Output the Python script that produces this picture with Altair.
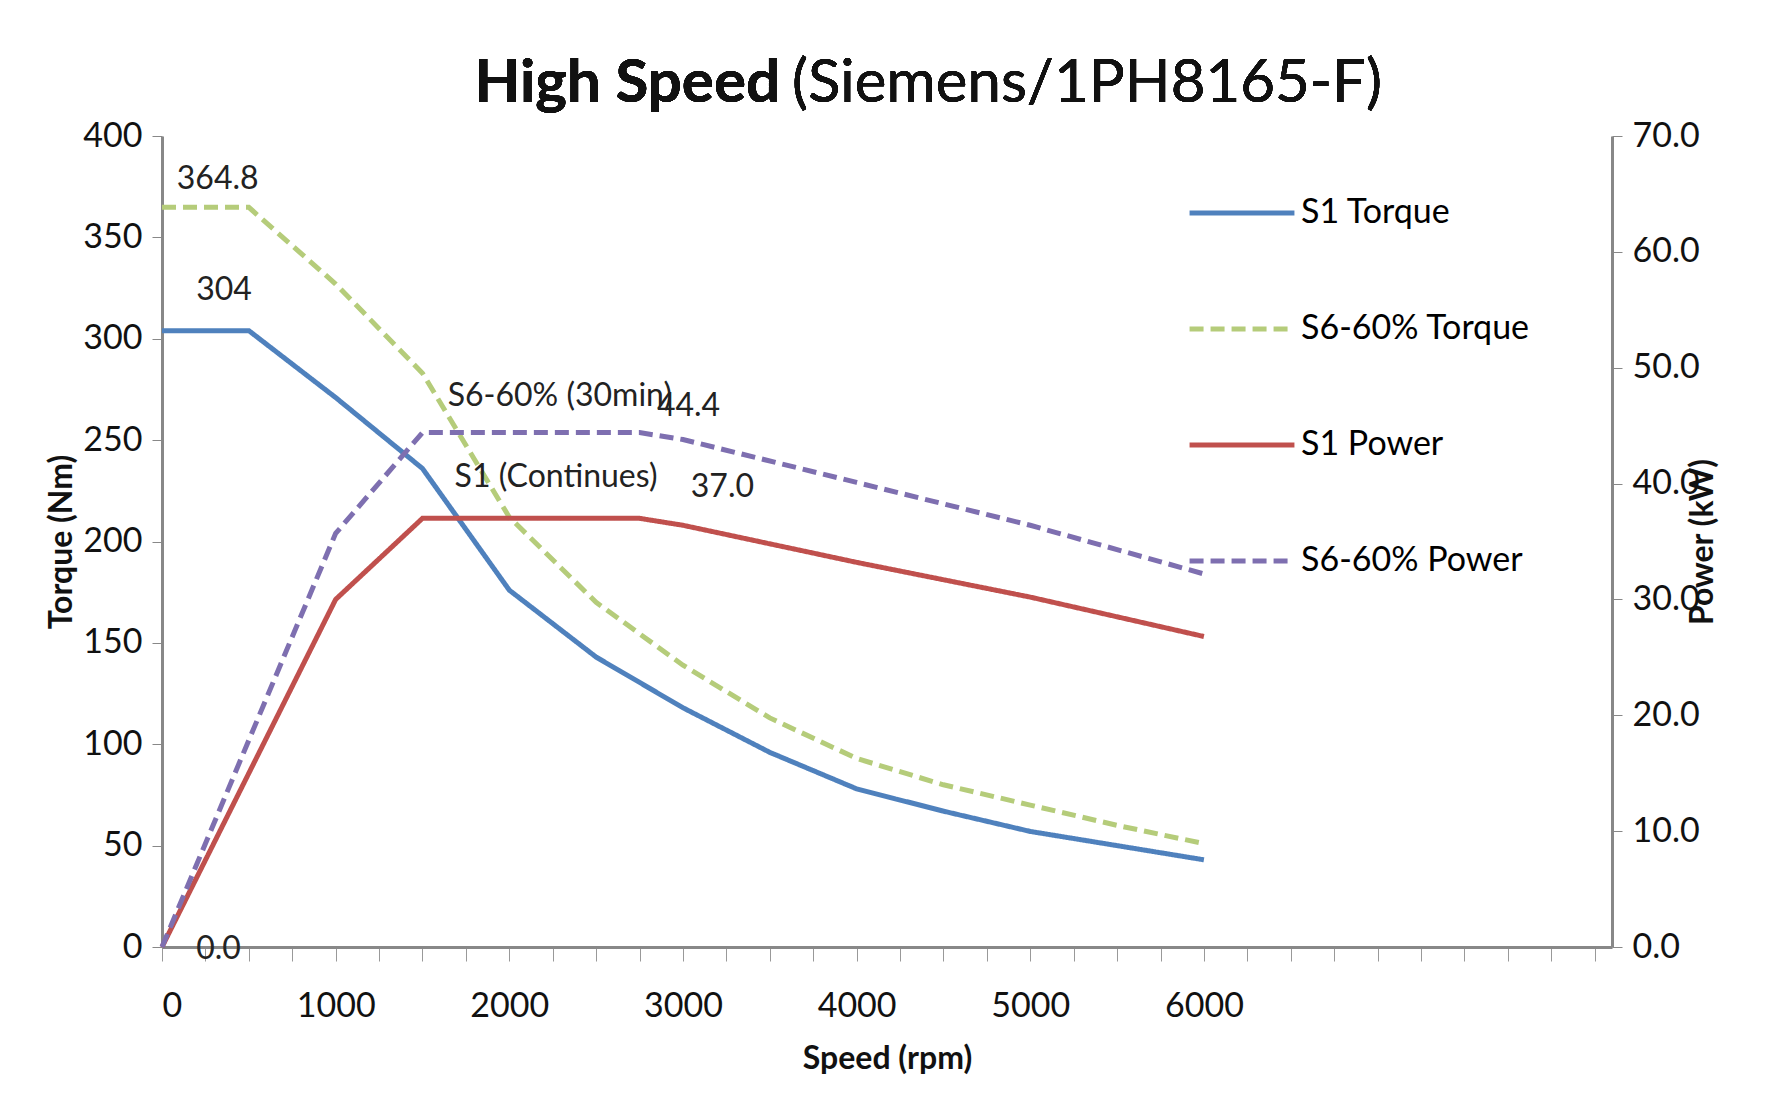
import altair as alt
import pandas as pd

FONT = "Lato"

# torque curves (Nm)
s1_torque_rpm = [0, 500, 1000, 1500, 2000, 2500, 3000, 3500, 4000, 4500, 5000, 5500, 6000]
s1_torque = [304, 304, 271, 236, 176, 143, 118, 96, 78, 67, 57, 50, 43]
s6_torque_rpm = [0, 500, 1000, 1500, 2000, 2500, 3000, 3500, 4000, 4500, 5000, 5500, 6000]
s6_torque = [364.8, 364.8, 327, 283, 212, 170, 139, 113, 93, 80, 70, 60, 51]

# power curves (kW)
s1_power_rpm = [0, 1000, 1500, 2750, 3000, 4000, 5000, 6000]
s1_power = [0, 30.0, 37.0, 37.0, 36.4, 33.2, 30.2, 26.8]
s6_power_rpm = [0, 1000, 1500, 2750, 3000, 4000, 5000, 6000]
s6_power = [0, 35.7, 44.4, 44.4, 43.8, 40.1, 36.4, 32.2]

series = ["S1 Torque", "S6-60% Torque", "S1 Power", "S6-60% Power"]
colors = ["#4F81BD", "#B5CC7A", "#C0504D", "#7E6FB0"]
dashes = [[1, 0], [14, 7], [1, 0], [14, 7]]

ann_text = ["364.8", "304", "S6-60% (30min)", "44.4", "S1 (Continues)", "37.0", "0.0"]
ann_rpm = [85, 197, 1645, 2850, 1685, 3045, 197]
ann_torque = [379, 324, 272, 267, 232, 227, -1]

torque_df = pd.concat([
    pd.DataFrame({"rpm": s1_torque_rpm, "val": s1_torque, "series": "S1 Torque"}),
    pd.DataFrame({"rpm": s6_torque_rpm, "val": s6_torque, "series": "S6-60% Torque"}),
])
power_df = pd.concat([
    pd.DataFrame({"rpm": s1_power_rpm, "val": s1_power, "series": "S1 Power"}),
    pd.DataFrame({"rpm": s6_power_rpm, "val": s6_power, "series": "S6-60% Power"}),
])
ann_df = pd.DataFrame({"t": ann_text, "rpm": ann_rpm, "val": ann_torque})

x_ticks = list(range(0, 8251, 250))
x = alt.X(
    "rpm:Q",
    title="Speed (rpm)",
    scale=alt.Scale(domain=[0, 8350], nice=False),
    axis=alt.Axis(
        values=x_ticks, grid=False, labelExpr="datum.value <= 6000 && datum.value % 1000 == 0 ? datum.label : ''",
        format="d", tickSize=14, tickColor="#999999", domainColor="#888888", domainWidth=3,
        labelPadding=28, titlePadding=20,
    ),
)
color = alt.Color("series:N", scale=alt.Scale(domain=series, range=colors), title=None,
                  legend=alt.Legend(orient="none", legendX=1025, legendY=22,
                                    symbolType="stroke", symbolSize=11000, symbolStrokeWidth=5,
                                    labelFontSize=34, labelFont=FONT, rowPadding=44, labelLimit=400))
dash = alt.StrokeDash("series:N", scale=alt.Scale(domain=series, range=dashes), title=None)

torque = alt.Chart(torque_df).mark_line(strokeWidth=5).encode(
    x=x,
    y=alt.Y("val:Q", title="Torque (Nm)", scale=alt.Scale(domain=[0, 400], nice=False),
            axis=alt.Axis(values=list(range(0, 401, 50)), grid=False, tickSize=10, domainColor="#888888",
                          domainWidth=3, tickColor="#888888", labelPadding=10)),
    color=color, strokeDash=dash,
)
labels = alt.Chart(ann_df).mark_text(align="left", baseline="middle", fontSize=32, font=FONT, color="#222").encode(
    x="rpm:Q", y=alt.Y("val:Q", scale=alt.Scale(domain=[0, 400], nice=False)), text="t:N"
)
power = alt.Chart(power_df).mark_line(strokeWidth=5).encode(
    x=x,
    y=alt.Y("val:Q", title="Power (kW)", scale=alt.Scale(domain=[0, 70], nice=False),
            axis=alt.Axis(orient="right", values=list(range(0, 71, 10)), format=".1f", grid=False,
                          tickSize=10, domainColor="#888888", domainWidth=3, tickColor="#888888",
                          labelPadding=10, titleAngle=270, titlePadding=20)),
    color=color, strokeDash=dash,
)
t1 = alt.Chart(ann_df).mark_text(align="right", fontSize=60, fontWeight="bold", font=FONT, color="#111").encode(
    x=alt.value(618), y=alt.value(-52), text=alt.value("High Speed"))
t2 = alt.Chart(ann_df).mark_text(align="left", fontSize=60, font=FONT, color="#111").encode(
    x=alt.value(630), y=alt.value(-52), text=alt.value("(Siemens/1PH8165-F)"))

chart = (
    alt.layer(alt.layer(torque, labels, t1, t2), power)
    .resolve_scale(y="independent")
    .properties(width=1450, height=811, padding={"top": 46, "left": 37, "right": 10, "bottom": 10})
    .configure_axis(labelFontSize=34, titleFontSize=32, labelFont=FONT, titleFont=FONT,
                    labelColor="#111", titleColor="#111", titleFontWeight="bold")
    .configure_view(stroke=None)
)
chart.save("out.html", embed_options={"renderer": "svg", "actions": False})
